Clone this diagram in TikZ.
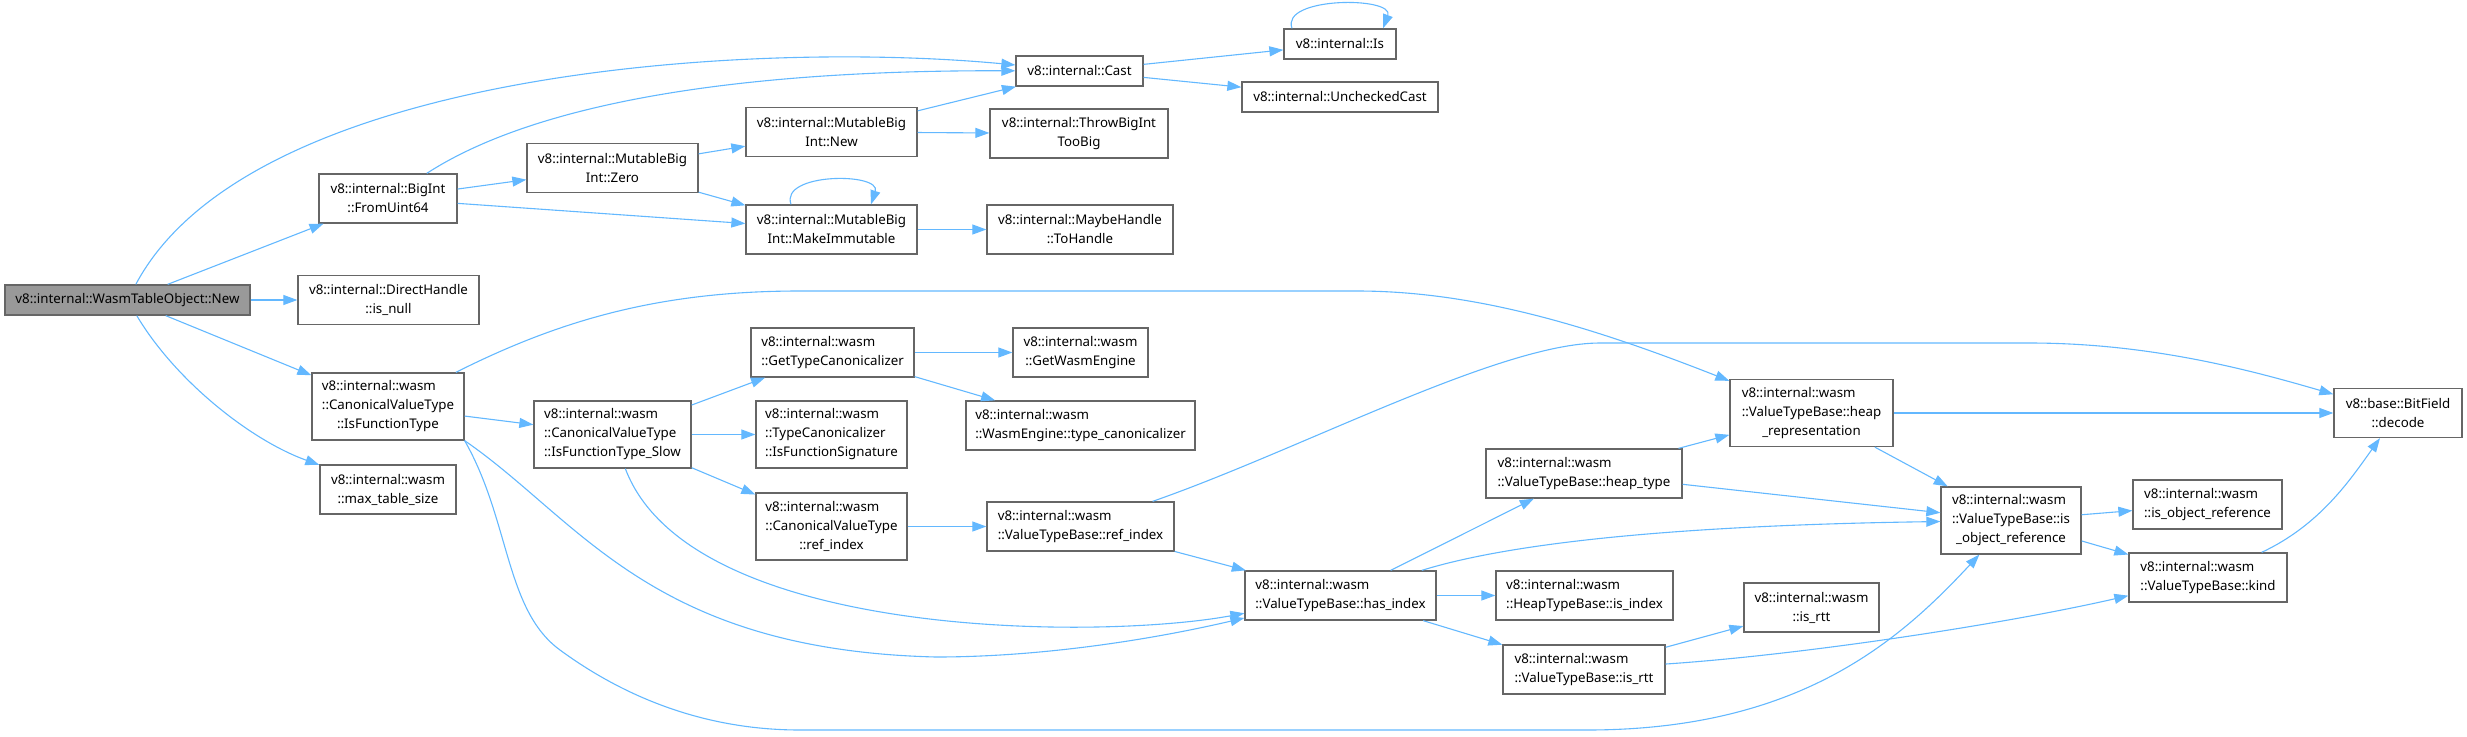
\documentclass[tikz,border=0pt]{standalone}
\usepackage{fontspec}
\setmainfont{Noto Sans}
\usetikzlibrary{arrows.meta}
\definecolor{edgeblue}{HTML}{63B8FF}
\definecolor{boxgray}{HTML}{666666}
\definecolor{rootgray}{HTML}{999999}

\begin{document}
\begin{tikzpicture}[x=1pt, y=-1pt,
  font=\fontsize{13.3}{19}\selectfont, >={Triangle[length=14pt,width=10pt]},
  fn/.style={draw=boxgray, line width=1.3pt, fill=white, inner sep=0pt, align=left, minimum height=49pt},
  one/.style={minimum height=30pt},
  three/.style={minimum height=67pt},
  call/.style={->, draw=edgeblue, line width=1.1pt}]
\useasboundingbox (0,0) rectangle (2467,736);
\node[fn, one, fill=rootgray, minimum width=245pt] (new) at (127.5,300) {v8::internal::WasmTableObject::New};
\node[fn, minimum width=138pt] (fromu) at (388,198.5) {v8::internal::BigInt\\\hfil::FromUint64};
\node[fn, minimum width=181pt] (isnull) at (388.5,300) {v8::internal::DirectHandle\\\hfil::is\_null};
\node[fn, three, minimum width=152pt] (isfunc) at (388,406.5) {v8::internal::wasm\\::CanonicalValueType\\\hfil::IsFunctionType};
\node[fn, minimum width=136pt] (maxtbl) at (388,489.5) {v8::internal::wasm\\\hfil::max\_table\_size};
\node[fn, minimum width=171pt] (zero) at (612.5,168) {v8::internal::MutableBig\\\hfil Int::Zero};
\node[fn, three, minimum width=157pt] (slow) at (612.5,434.5) {v8::internal::wasm\\::CanonicalValueType\\\hfil::IsFunctionType\_Slow};
\node[fn, minimum width=171pt] (mbnew) at (831.5,132) {v8::internal::MutableBig\\\hfil Int::New};
\node[fn, minimum width=171pt] (mkimm) at (831.5,229.5) {v8::internal::MutableBig\\\hfil Int::MakeImmutable};
\node[fn, minimum width=163pt] (gettc) at (832.5,352.5) {v8::internal::wasm\\\hfil::GetTypeCanonicalizer};
\node[fn, three, minimum width=151pt] (isfsig) at (831.5,434.5) {v8::internal::wasm\\::TypeCanonicalizer\\\hfil::IsFunctionSignature};
\node[fn, three, minimum width=151pt] (cvtref) at (831.5,526.5) {v8::internal::wasm\\::CanonicalValueType\\\hfil::ref\_index};
\node[fn, one, minimum width=127pt] (cast) at (1079.5,71) {v8::internal::Cast};
\node[fn, minimum width=178pt] (throw) at (1079,133.5) {v8::internal::ThrowBigInt\\\hfil TooBig};
\node[fn, minimum width=186pt] (tohandle) at (1080,229.5) {v8::internal::MaybeHandle\\\hfil::ToHandle};
\node[fn, minimum width=135pt] (getwe) at (1080.5,352.5) {v8::internal::wasm\\\hfil::GetWasmEngine};
\node[fn, minimum width=229pt] (typec) at (1080.5,425.5) {v8::internal::wasm\\\hfil::WasmEngine::type\_canonicalizer};
\node[fn, minimum width=187pt] (vtbref) at (1080.5,526.5) {v8::internal::wasm\\\hfil::ValueTypeBase::ref\_index};
\node[fn, one, minimum width=112pt] (is) at (1340,44) {v8::internal::Is};
\node[fn, one, minimum width=196pt] (unchk) at (1340,97) {v8::internal::UncheckedCast};
\node[fn, minimum width=191pt] (hasidx) at (1340.5,595.5) {v8::internal::wasm\\\hfil::ValueTypeBase::has\_index};
\node[fn, minimum width=196pt] (heaptype) at (1584,473.5) {v8::internal::wasm\\\hfil::ValueTypeBase::heap\_type};
\node[fn, minimum width=177pt] (isindex) at (1584.5,595.5) {v8::internal::wasm\\\hfil::HeapTypeBase::is\_index};
\node[fn, minimum width=162pt] (vtbrtt) at (1584,669.5) {v8::internal::wasm\\\hfil::ValueTypeBase::is\_rtt};
\node[fn, three, minimum width=163pt] (heaprep) at (1811.5,413) {v8::internal::wasm\\::ValueTypeBase::heap\\\hfil\_representation};
\node[fn, minimum width=135pt] (isrtt) at (1811.5,607.5) {v8::internal::wasm\\\hfil::is\_rtt};
\node[fn, three, minimum width=140pt] (objref) at (2011,520.5) {v8::internal::wasm\\::ValueTypeBase::is\\\hfil\_object\_reference};
\node[fn, minimum width=149pt] (wobjref) at (2207.5,504.5) {v8::internal::wasm\\\hfil::is\_object\_reference};
\node[fn, minimum width=158pt] (kind) at (2208,577.5) {v8::internal::wasm\\\hfil::ValueTypeBase::kind};
\node[fn, minimum width=128pt] (decode) at (2398,413) {v8::base::BitField\\\hfil::decode};
\draw[call] (new) .. controls (250,70) and (750,40) .. (cast);
\draw[call] (new) -- (fromu);
\draw[call] (new) -- (isnull);
\draw[call] (new) -- (isfunc);
\draw[call] (new) .. controls (175,380) and (250,440) .. (maxtbl);
\draw[call] (fromu) .. controls (540,100) and (750,70) .. (cast);
\draw[call] (fromu) -- (zero);
\draw[call] (fromu) -- (mkimm);
\draw[call] (zero) -- (mbnew);
\draw[call] (zero) -- (mkimm);
\draw[call] (mbnew) -- (cast);
\draw[call] (mbnew) -- (throw);
\draw[call] ([xshift=-40.5pt]mkimm.north) .. controls ([xshift=-52pt,yshift=32pt]mkimm.north) and ([xshift=50pt,yshift=32pt]mkimm.north) .. ([xshift=39.5pt]mkimm.north);
\draw[call] (mkimm) -- (tohandle);
\draw[call] (cast) -- (is);
\draw[call] (cast) -- (unchk);
\draw[call] ([xshift=-48pt]is.north) .. controls ([xshift=-60pt,yshift=32pt]is.north) and ([xshift=55pt,yshift=32pt]is.north) .. ([xshift=43pt]is.north);
\draw[call] (isfunc) .. controls (560,320) and (660,291) .. (800,291) -- (1357,291) .. controls (1480,291) and (1600,330) .. (heaprep);
\draw[call] (isfunc) -- (slow);
\draw[call] (isfunc.south east) .. controls (580,520) and (650,650) .. (936,657) .. controls (1040,657) and (1150,640) .. (hasidx);
\draw[call] (isfunc.south east) .. controls (510,520) and (505,610) .. (560,650) .. controls (620,694) and (700,730) .. (800,730) -- (1587,730) .. controls (1800,730) and (1900,640) .. (objref);
\draw[call] (slow) -- (gettc);
\draw[call] (slow) -- (isfsig);
\draw[call] (slow) -- (cvtref);
\draw[call] (slow) .. controls (690,640) and (1100,640) .. (hasidx);
\draw[call] (gettc) -- (getwe);
\draw[call] (gettc) -- (typec);
\draw[call] (cvtref) -- (vtbref);
\draw[call] (vtbref) .. controls (1300,450) and (1500,343) .. (1600,343) -- (2029,343) .. controls (2150,343) and (2250,370) .. (decode);
\draw[call] (vtbref) -- (hasidx);
\draw[call] (hasidx) -- (heaptype);
\draw[call] (hasidx) .. controls (1520,540) and (1700,525) .. (objref);
\draw[call] (hasidx) -- (isindex);
\draw[call] (hasidx) -- (vtbrtt);
\draw[call] (heaptype) -- (heaprep);
\draw[call] (heaptype) -- (objref);
\draw[call] (vtbrtt) -- (isrtt);
\draw[call] (vtbrtt) .. controls (1800,655) and (2000,625) .. (kind);
\draw[call] (heaprep) -- (decode);
\draw[call] (heaprep) -- (objref);
\draw[call] (objref) -- (wobjref);
\draw[call] (objref) -- (kind);
\draw[call] (kind) .. controls (2320,525) and (2350,480) .. (decode);
\end{tikzpicture}
\end{document}
